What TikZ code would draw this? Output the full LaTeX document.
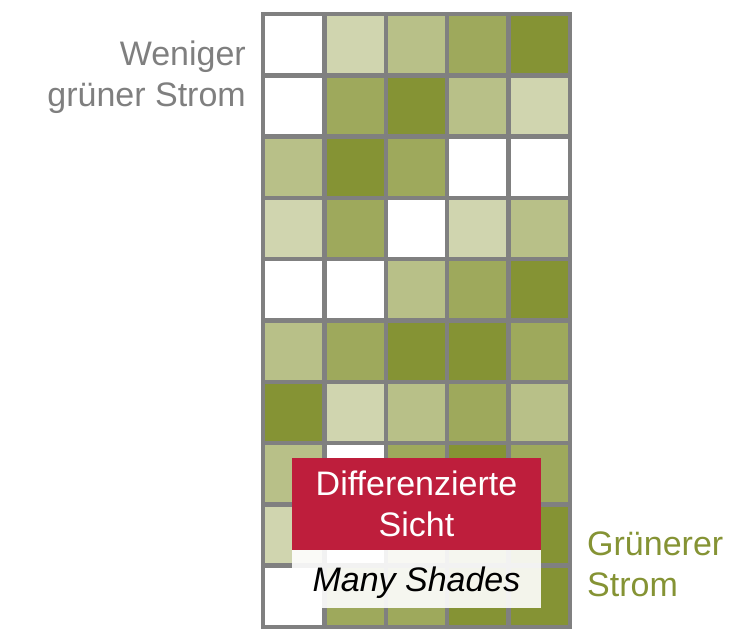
\documentclass[tikz,border=0pt]{standalone}
\usepackage{fontspec}
\setmainfont{Liberation Sans}
\usetikzlibrary{positioning}
\definecolor{shade0}{RGB}{255,255,255}
\definecolor{shade1}{RGB}{208,213,175}
\definecolor{shade2}{RGB}{184,192,136}
\definecolor{shade3}{RGB}{158,169,92}
\definecolor{shade4}{RGB}{133,147,52}
\definecolor{gridgray}{RGB}{128,128,128}
\definecolor{labelgray}{RGB}{127,127,127}
\definecolor{viewred}{RGB}{190,30,60}
\def\cellw{61.4}
\def\cellh{61.3}

\begin{document}
\begin{tikzpicture}[x=1pt, y=-1pt,
	gridline/.style={line width=4.5pt, color=gridgray, line cap=rect},
	bigtext/.style={font=\fontsize{34}{41}\selectfont, inner sep=0pt},
	redbox/.style={bigtext, fill=viewred, text=white, align=center, minimum width=249pt, minimum height=92pt},
	shadebox/.style={bigtext, fill=white, fill opacity=0.9, text opacity=1, minimum width=249pt, minimum height=58pt, text height=25pt, text depth=0pt}]
			%%%%% START %%%%%
			\useasboundingbox (0,0) rectangle (753,638);
			
			% cells, row by row
			\foreach \vals [count=\r from 0] in {{0,1,2,3,4},{0,3,4,2,1},{2,4,3,0,0},{1,3,0,1,2},{0,0,2,3,4},
				{2,3,4,4,3},{4,1,2,3,2},{2,0,3,4,3},{1,0,2,3,4},{0,3,3,4,4}}{
				\foreach \v [count=\c from 0] in \vals {
					\fill[shade\v] ({263+\c*\cellw}, {14+\r*\cellh}) rectangle ++(\cellw, \cellh);
				}
			}
			
			\foreach \c in {0,...,5}
				\draw[gridline] ({263+\c*\cellw}, 14) -- ++(0, {10*\cellh});
			\foreach \r in {0,...,10}
				\draw[gridline] (263, {14+\r*\cellh}) -- ++({5*\cellw}, 0);
			
			\node[bigtext, text=labelgray, align=right, anchor=base east] (lessgreen) at (246, 106) {Weniger\\grüner Strom};
			\node[bigtext, text=shade4, align=left, anchor=base west] (moregreen) at (587, 596) {Grünerer\\Strom};
			
			\node[redbox] (view) at (416.5, 504) {Differenzierte\\Sicht};
			\node[shadebox, below=0pt of view] (shades) {\itshape Many Shades};
			
			%%%%% END %%%%%
		\end{tikzpicture}
\end{document}
